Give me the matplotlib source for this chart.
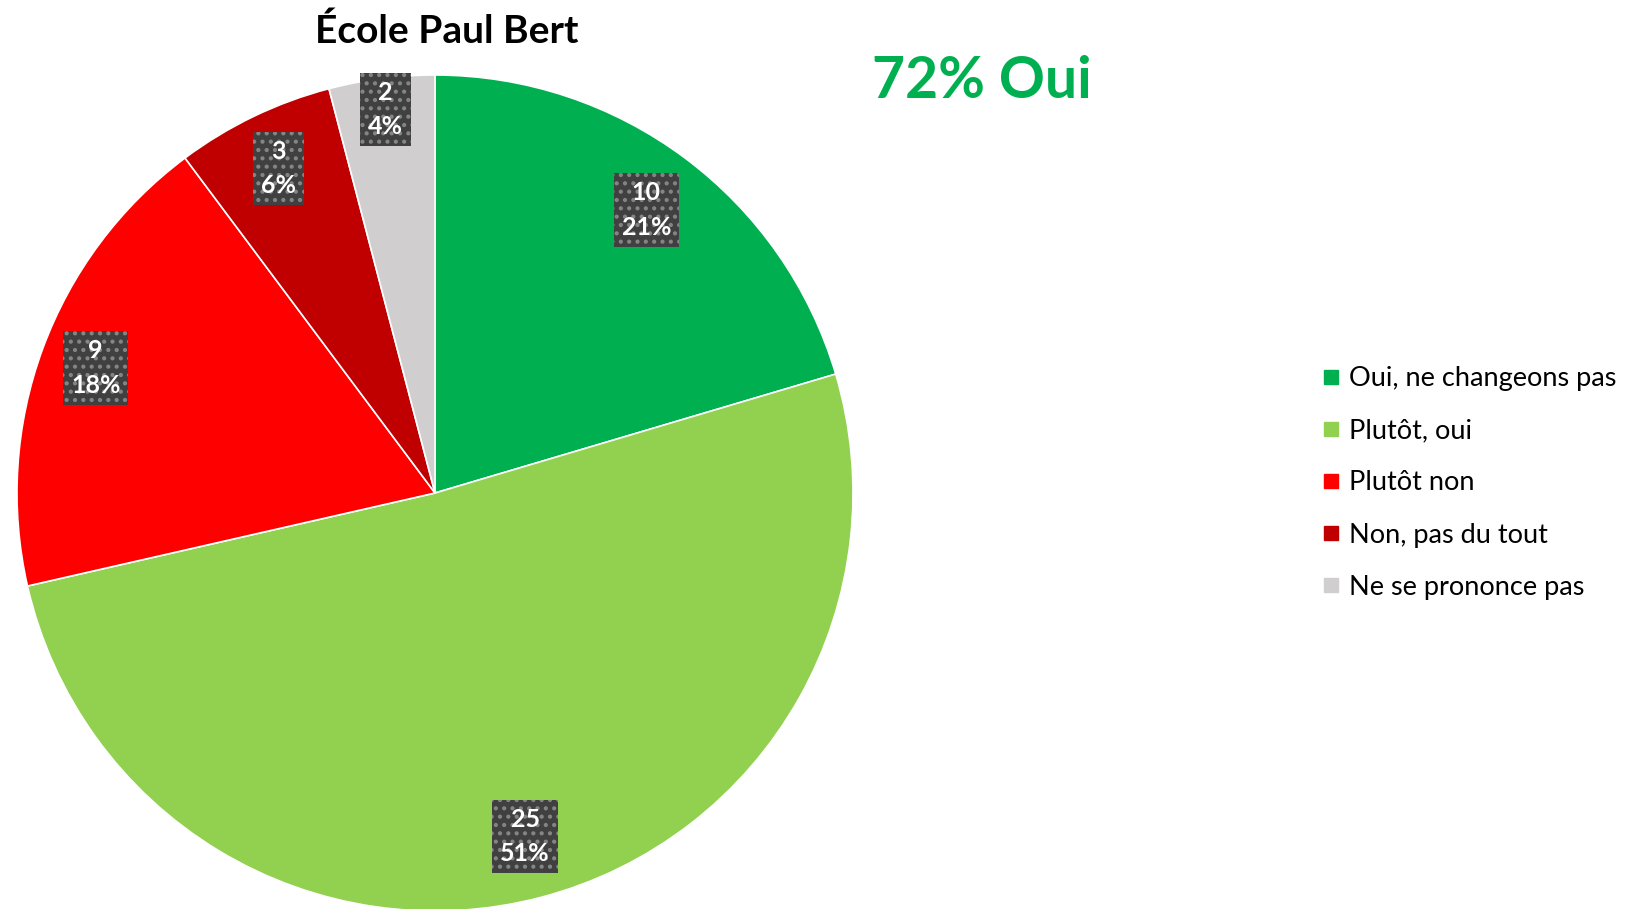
# -*- coding: utf-8 -*-
"""
Camembert - École Paul Bert
Sortie: out.png
"""
import numpy as np
from matplotlib import pyplot as plt
from matplotlib.lines import Line2D

##############################################################################
# DONNÉES
##############################################################################

categories = ['Oui, ne changeons pas', 'Plutôt, oui', 'Plutôt non',
              'Non, pas du tout', 'Ne se prononce pas']
effectifs = [10, 25, 9, 3, 2]
pourcentages = [21, 51, 18, 6, 4]   # tels qu'affichés
couleurs = ['#00B050', '#92D050', '#FF0000', '#C00000', '#D0CECE']
titre = 'École Paul Bert'
resume = '72% Oui'

# distance radiale des étiquettes (mise en page)
dist_etiquettes = [0.845, 0.85, 0.865, 0.862, 0.925]

##############################################################################
# TRACÉ
##############################################################################

plt.rcParams['font.family'] = ['Lato', 'DejaVu Sans']
plt.rcParams['hatch.linewidth'] = 1.8

W, H = 1640, 909
fig = plt.figure(figsize=(W / 100, H / 100), dpi=100)

cx, cy, r = 435, 493, 418
ax = fig.add_axes([(cx - r) / W, (H - cy - r) / H, 2 * r / W, 2 * r / H])

wedges, _ = ax.pie(effectifs, colors=couleurs, startangle=90, counterclock=False,
                   radius=1.0, wedgeprops=dict(edgecolor='white', linewidth=1.2))
ax.set_xlim(-1, 1)
ax.set_ylim(-1, 1)
ax.set_aspect('auto')
ax.axis('off')

for w, n, pct, d in zip(wedges, effectifs, pourcentages, dist_etiquettes):
    ang = np.deg2rad((w.theta1 + w.theta2) / 2)
    ax.text(d * np.cos(ang), d * np.sin(ang), f'{n}\n{pct}%',
            ha='center', va='center', fontsize=18, fontweight='bold',
            color='white', linespacing=1.6,
            bbox=dict(boxstyle='square,pad=0.32', facecolor='#404040',
                      edgecolor='#858585', linewidth=0, hatch='..'))

fig.text(447 / W, 1 - 31 / H, titre, ha='center', va='center',
         fontsize=28, fontweight='bold', color='black')
fig.text(982 / W, 1 - 82 / H, resume, ha='center', va='center',
         fontsize=41, fontweight='bold', color='#00B050')

handles = [Line2D([0], [0], marker='s', linestyle='', markersize=10,
                  markerfacecolor=c, markeredgecolor=c) for c in couleurs]
fig.legend(handles, categories, loc='center left',
           bbox_to_anchor=(1322 / W, 1 - 483 / H), frameon=False,
           fontsize=19.5, labelspacing=1.0, handlelength=0.7,
           handletextpad=0.3, borderpad=0, borderaxespad=0)

plt.savefig('out.png', dpi=100)
plt.close()
